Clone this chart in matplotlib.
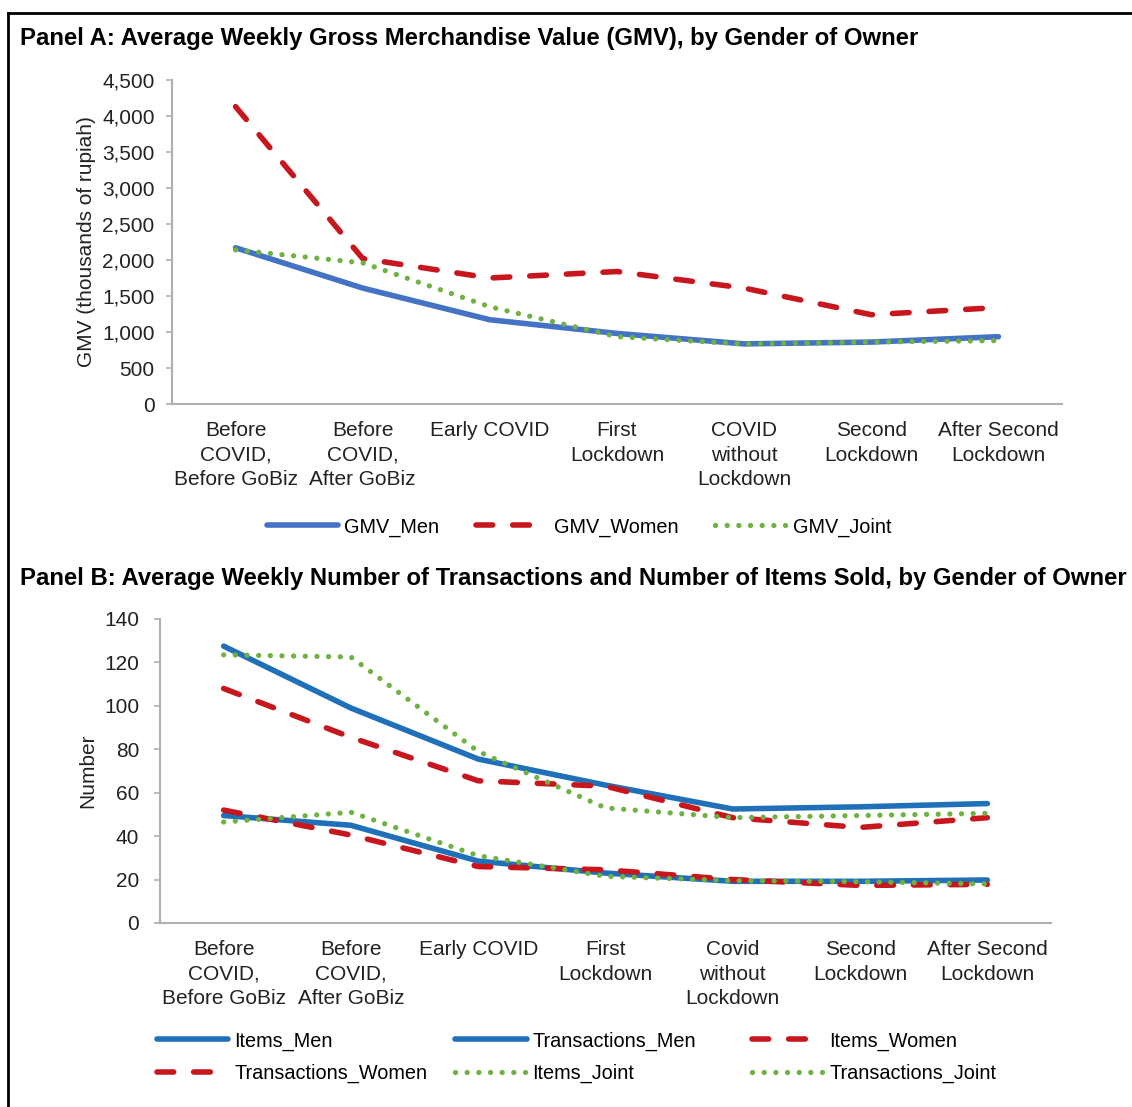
import matplotlib.pyplot as plt
from matplotlib.lines import Line2D
from matplotlib.ticker import FuncFormatter

plt.rcParams['font.family'] = ['Liberation Sans', 'DejaVu Sans']

# Panel A data (thousands of rupiah)
periods_a = ["Before\nCOVID,\nBefore GoBiz", "Before\nCOVID,\nAfter GoBiz", "Early COVID",
             "First\nLockdown", "COVID\nwithout\nLockdown", "Second\nLockdown",
             "After Second\nLockdown"]
gmv_men = [2170, 1610, 1170, 980, 835, 860, 935]
gmv_women = [4130, 2020, 1750, 1840, 1610, 1240, 1340]
gmv_joint = [2140, 1960, 1350, 935, 833, 861, 880]

# Panel B data
periods_b = ["Before\nCOVID,\nBefore GoBiz", "Before\nCOVID,\nAfter GoBiz", "Early COVID",
             "First\nLockdown", "Covid\nwithout\nLockdown", "Second\nLockdown",
             "After Second\nLockdown"]
items_men = [127.5, 99, 75.5, 63.5, 52.5, 53.5, 55]
trans_men = [49.5, 45, 28.5, 23, 19.2, 19.2, 19.8]
items_women = [108, 85.5, 65.5, 63, 48.5, 44, 48.5]
trans_women = [52, 40.5, 26, 24.5, 20, 17.3, 17.8]
items_joint = [123.5, 122.5, 79, 53, 48.5, 49.5, 50.5]
trans_joint = [46.5, 51, 31, 21.5, 19.5, 19, 18]

W, H = 1132, 1107
FS = 15
LFS = 14.3
TFS = 17.2
BLUE_A = "#4472C4"
BLUE_B = "#1F70B8"
RED = "#C8161E"
GREEN = "#6FB143"

solid = dict(lw=4, solid_capstyle='round')
dashed = dict(lw=4, dashes=(3, 3.6), dash_capstyle='round')
dotted = dict(lw=3.8, dashes=(0.01, 2.2), dash_capstyle='round')


def px_axes(fig, left, top, right, bottom):
    return fig.add_axes([left / W, 1 - bottom / H, (right - left) / W, (bottom - top) / H])


def style_axes(ax, labels, ypad):
    for s in ["top", "right"]:
        ax.spines[s].set_visible(False)
    for s in ["left", "bottom"]:
        ax.spines[s].set_color("#B0B0B0")
        ax.spines[s].set_linewidth(1.5)
    ax.set_xlim(-0.5, 6.5)
    ax.set_xticks(range(len(labels)))
    ax.set_xticklabels(labels, fontsize=FS, linespacing=1.37, color="#222222")
    ax.tick_params(axis="x", length=0, pad=12.5)
    ax.tick_params(axis="y", length=4.5, width=1.2, color="#B0B0B0", pad=ypad,
                   labelsize=FS, labelcolor="#222222")


fig = plt.figure(figsize=(W / 100, H / 100), dpi=100)

# border (top and left visible)
fig.add_artist(Line2D([8 / W, 1.0], [1 - 13 / H, 1 - 13 / H], transform=fig.transFigure,
                      color="black", lw=2))
fig.add_artist(Line2D([8 / W, 8 / W], [1 - 13 / H, 0.0], transform=fig.transFigure,
                      color="black", lw=2))

# ---------- Panel A ----------
fig.text(20 / W, 1 - 38 / H, "Panel A: Average Weekly Gross Merchandise Value (GMV), by Gender of Owner",
         fontsize=TFS, fontweight="bold", va="center", ha="left")
axa = px_axes(fig, 172, 80, 1062, 404)
x = range(len(periods_a))
axa.plot(x, gmv_men, color=BLUE_A, label="GMV_Men", **solid)
axa.plot(x, gmv_women, color=RED, label="GMV_Women", **dashed)
axa.plot(x, gmv_joint, color=GREEN, label="GMV_Joint", **dotted)
axa.set_ylim(0, 4500)
axa.set_yticks(range(0, 4501, 500))
axa.yaxis.set_major_formatter(FuncFormatter(lambda v, p: f"{int(v):,}"))
style_axes(axa, periods_a, 8)
axa.set_ylabel("GMV (thousands of rupiah)", fontsize=FS, color="#222222")
axa.yaxis.set_label_coords((96 - 172) / 890, 0.5)
axa.legend(loc="center", bbox_to_anchor=(579 / W, 1 - 527 / H), bbox_transform=fig.transFigure,
           ncol=3, frameon=False, fontsize=LFS, handlelength=3.6, handletextpad=0.3,
           columnspacing=1.85, borderpad=0, borderaxespad=0)

# ---------- Panel B ----------
fig.text(20 / W, 1 - 579 / H,
         "Panel B: Average Weekly Number of Transactions and Number of Items Sold, by Gender of Owner",
         fontsize=TFS, fontweight="bold", va="center", ha="left")
axb = px_axes(fig, 160, 619, 1051, 923)
x = range(len(periods_b))
l1, = axb.plot(x, items_men, color=BLUE_B, label="Items_Men", **solid)
l2, = axb.plot(x, trans_men, color=BLUE_B, label="Transactions_Men", **solid)
l3, = axb.plot(x, items_women, color=RED, label="Items_Women", **dashed)
l4, = axb.plot(x, trans_women, color=RED, label="Transactions_Women", **dashed)
l5, = axb.plot(x, items_joint, color=GREEN, label="Items_Joint", **dotted)
l6, = axb.plot(x, trans_joint, color=GREEN, label="Transactions_Joint", **dotted)
axb.set_ylim(0, 140)
axb.set_yticks(range(0, 141, 20))
style_axes(axb, periods_b, 10.5)
axb.set_ylabel("Number", fontsize=FS, color="#222222")
axb.yaxis.set_label_coords((97 - 160) / 891, 0.5)

# legend laid out as three separate columns
cols = [([l1, l4], 157), ([l2, l5], 455), ([l3, l6], 752)]
for handles, xleft in cols:
    fig.legend(handles, [h.get_label() for h in handles], loc="center left",
               bbox_to_anchor=(xleft / W, 1 - 1057 / H), frameon=False, fontsize=LFS,
               handlelength=3.6, handletextpad=0.3, labelspacing=0.65,
               borderpad=0, borderaxespad=0)

fig.savefig("out.png", dpi=100)
